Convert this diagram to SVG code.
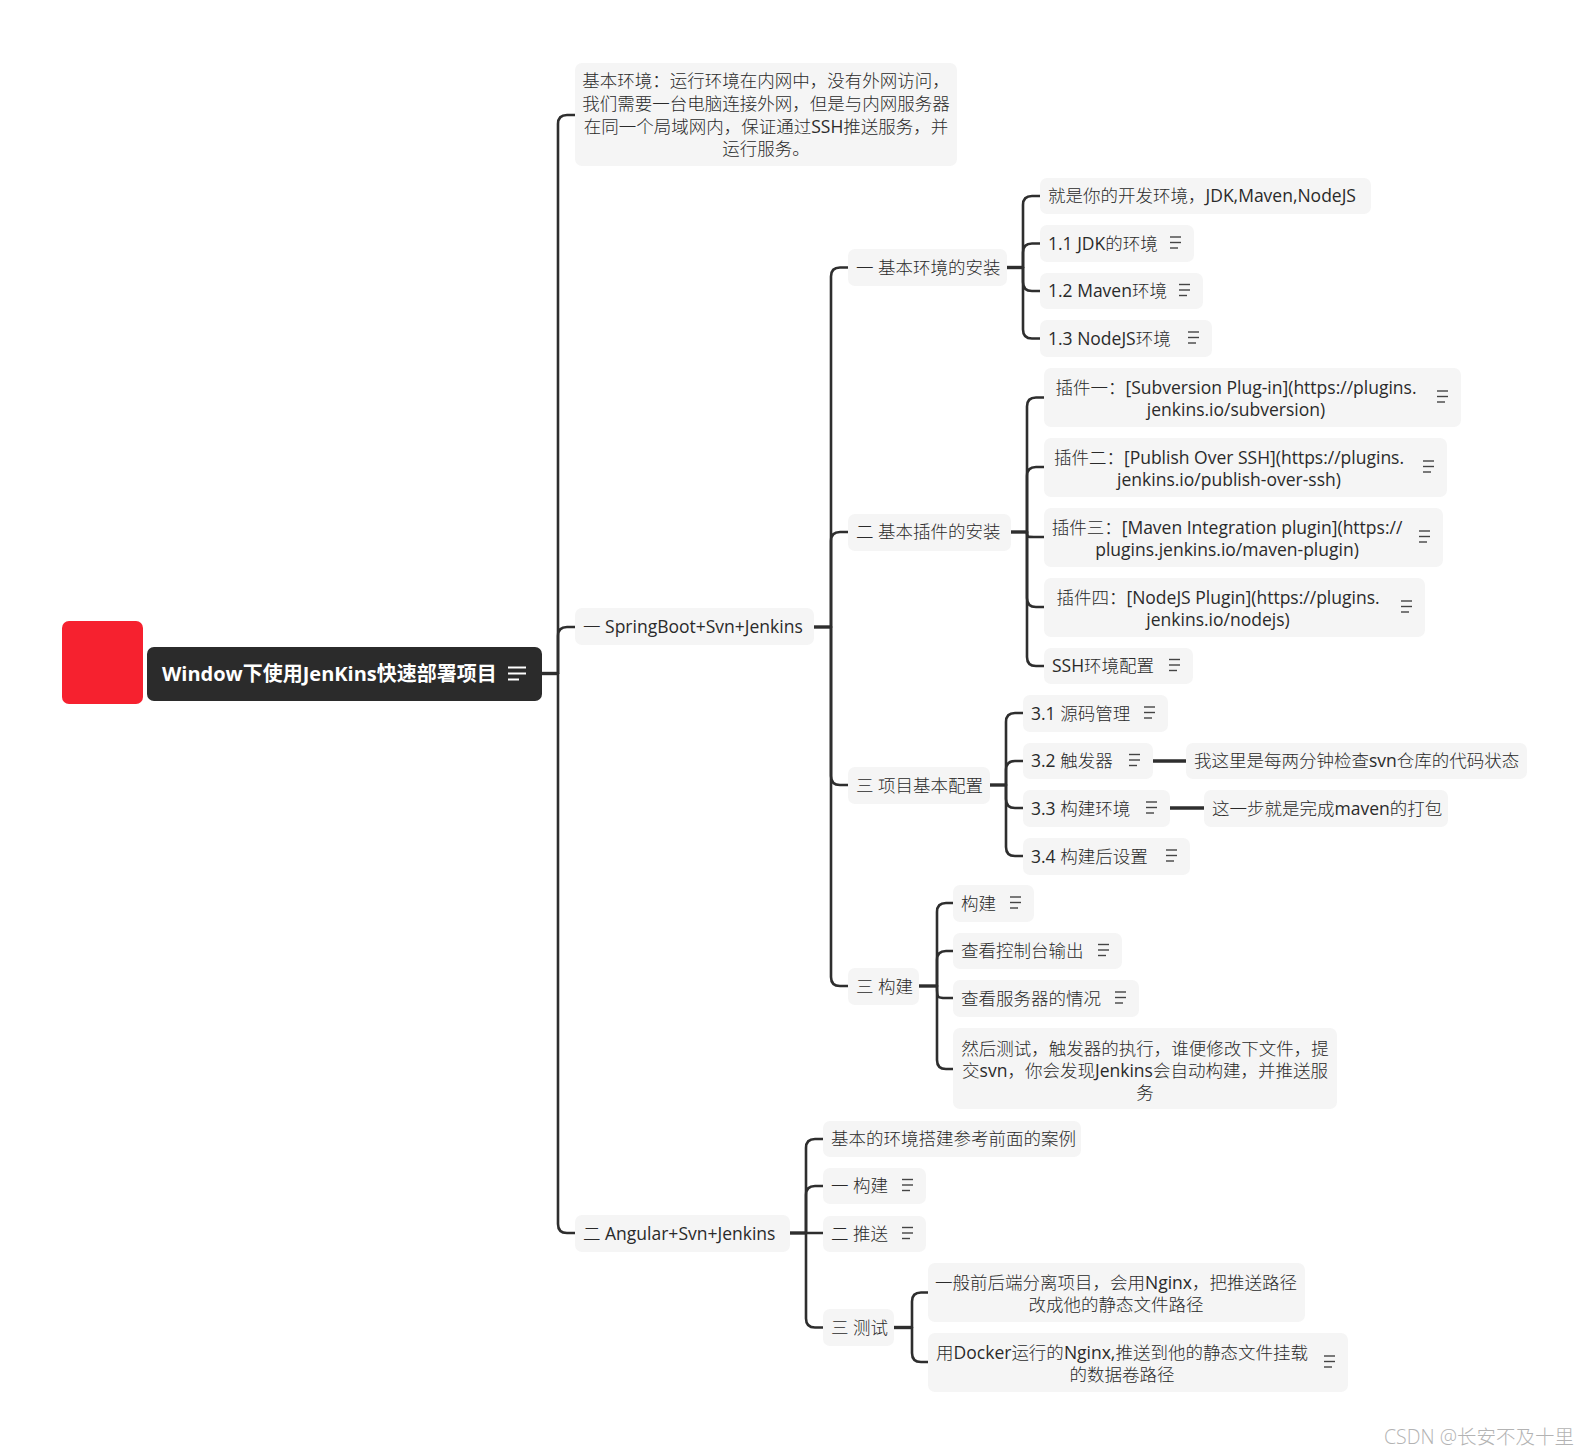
<svg xmlns="http://www.w3.org/2000/svg" xmlns:xlink="http://www.w3.org/1999/xlink" width="1590" height="1455" viewBox="0 0 1590 1455">
<defs>
<style>
.n{fill:#f5f5f5}
.t{font-family:"Open Sans","Noto Sans CJK SC",sans-serif;font-size:17.5px;font-weight:300;fill:#2a2a2a}
.l{font-weight:400}
.m{text-anchor:middle}
.c{fill:none;stroke:#2e2e2e;stroke-width:2.6;stroke-linecap:round}
.s{fill:none;stroke:#2e2e2e;stroke-width:3.4}
.ic line{stroke:#444;stroke-width:1.4}
</style>
<g id="ic" class="ic"><line x1="0" y1="-6.5" x2="11" y2="-6.5"/><line x1="0" y1="-1" x2="11" y2="-1"/><line x1="0" y1="4.5" x2="8" y2="4.5"/></g>
</defs>
<rect width="1590" height="1455" fill="#fff"/>

<g id="connectors">
<path class="s" d="M542 673.5 H558"/>
<path class="c" d="M558 673.5 V124 Q558 115 567 115 H575"/>
<path class="c" d="M558 673.5 V636 Q558 627 567 627 H575"/>
<path class="c" d="M558 673.5 V1224 Q558 1233 567 1233 H575"/>
<path class="s" d="M814 627 H831"/>
<path class="c" d="M831 627 V276.5 Q831 267.5 840 267.5 H848"/>
<path class="c" d="M831 627 V541 Q831 532 840 532 H848"/>
<path class="c" d="M831 627 V776 Q831 785 840 785 H848"/>
<path class="c" d="M831 627 V977 Q831 986 840 986 H848"/>
<path class="s" d="M1007 267.5 H1023"/>
<path class="c" d="M1023 267.5 V205 Q1023 196 1032 196 H1040"/>
<path class="c" d="M1023 267.5 V252.5 Q1023 243.5 1032 243.5 H1040"/>
<path class="c" d="M1023 267.5 V282 Q1023 291 1032 291 H1040"/>
<path class="c" d="M1023 267.5 V329.5 Q1023 338.5 1032 338.5 H1040"/>
<path class="s" d="M1011 532 H1027"/>
<path class="c" d="M1027 532 V406.5 Q1027 397.5 1036 397.5 H1044"/>
<path class="c" d="M1027 532 V476 Q1027 467 1036 467 H1044"/>
<path class="c" d="M1027 532 C1027 537 1027 537 1034 537 H1044"/>
<path class="c" d="M1027 532 V598 Q1027 607 1036 607 H1044"/>
<path class="c" d="M1027 532 V657 Q1027 666 1036 666 H1044"/>
<path class="s" d="M990 785 H1006"/>
<path class="c" d="M1006 785 V722 Q1006 713 1015 713 H1023"/>
<path class="c" d="M1006 785 V770 Q1006 761 1015 761 H1023"/>
<path class="c" d="M1006 785 V799 Q1006 808 1015 808 H1023"/>
<path class="c" d="M1006 785 V847 Q1006 856 1015 856 H1023"/>
<path class="s" d="M1153 761 H1186"/>
<path class="s" d="M1170 808 H1204"/>
<path class="s" d="M919 986 H937"/>
<path class="c" d="M937 986 V912 Q937 903 946 903 H953"/>
<path class="c" d="M937 986 V960 Q937 951 946 951 H953"/>
<path class="c" d="M937 986 C937 998 937 998 946 998 H953"/>
<path class="c" d="M937 986 V1060 Q937 1069 946 1069 H953"/>
<path class="s" d="M790 1233 H806"/>
<path class="c" d="M806 1233 V1148 Q806 1139 815 1139 H823"/>
<path class="c" d="M806 1233 V1195 Q806 1186 815 1186 H823"/>
<path class="c" d="M806 1233 H823"/>
<path class="c" d="M806 1233 V1318.5 Q806 1327.5 815 1327.5 H823"/>
<path class="s" d="M894 1327.5 H912"/>
<path class="c" d="M912 1327.5 V1301.5 Q912 1292.5 921 1292.5 H928"/>
<path class="c" d="M912 1327.5 V1353 Q912 1362 921 1362 H928"/>
</g>

<g id="root-marker"><rect x="62" y="621" width="81" height="83" rx="7" fill="#f6212f"/></g>
<g id="root">
<rect x="147" y="647" width="395" height="54" rx="7" fill="#2b2b2b"/>
<text x="162" y="681" style="font-family:'Open Sans','Noto Sans CJK SC',sans-serif;font-size:20px;font-weight:bold;fill:#fff">Window下使用JenKins快速部署项目</text>
<g stroke="#fff" stroke-width="2"><line x1="508" y1="667.5" x2="526" y2="667.5"/><line x1="508" y1="673.5" x2="526" y2="673.5"/><line x1="508" y1="679.5" x2="519" y2="679.5"/></g>
</g>

<g id="n-env">
<rect class="n" x="575" y="63" width="382" height="103" rx="7"/>
<text class="t m" x="766" y="87">基本环境：运行环境在内网中，没有外网访问，</text>
<text class="t m" x="766" y="110">我们需要一台电脑连接外网，但是与内网服务器</text>
<text class="t m" x="766" y="132.5">在同一个局域网内，保证通过<tspan class="l">SSH</tspan>推送服务，并</text>
<text class="t m" x="766" y="155">运行服务。</text>
</g>

<g id="n-spring">
<rect class="n" x="575" y="608" width="239" height="37" rx="7"/>
<text class="t" x="583" y="633">一 <tspan class="l">SpringBoot+Svn+Jenkins</tspan></text>
</g>
<g id="n-angular">
<rect class="n" x="575" y="1215" width="215" height="37" rx="7"/>
<text class="t" x="583" y="1239.5">二 <tspan class="l">Angular+Svn+Jenkins</tspan></text>
</g>

<g id="n-a">
<rect class="n" x="848" y="249" width="159" height="37" rx="7"/>
<text class="t" x="856" y="273.5">一 基本环境的安装</text>
</g>
<g id="n-a1">
<rect class="n" x="1040" y="178" width="331" height="36" rx="7"/>
<text class="t" x="1048" y="202">就是你的开发环境，<tspan class="l">JDK,Maven,NodeJS</tspan></text>
</g>
<g id="n-a2">
<rect class="n" x="1040" y="225" width="154" height="37" rx="7"/>
<text class="t" x="1048" y="249.5"><tspan class="l">1.1 JDK</tspan>的环境</text>
<use xlink:href="#ic" x="1170" y="243.5"/>
</g>
<g id="n-a3">
<rect class="n" x="1040" y="273" width="163" height="36" rx="7"/>
<text class="t" x="1048" y="297"><tspan class="l">1.2 Maven</tspan>环境</text>
<use xlink:href="#ic" x="1179" y="291"/>
</g>
<g id="n-a4">
<rect class="n" x="1040" y="320" width="172" height="37" rx="7"/>
<text class="t" x="1048" y="344.5"><tspan class="l">1.3 NodeJS</tspan>环境</text>
<use xlink:href="#ic" x="1188" y="338.5"/>
</g>

<g id="n-b">
<rect class="n" x="848" y="514" width="163" height="37" rx="7"/>
<text class="t" x="856" y="538">二 基本插件的安装</text>
</g>
<g id="n-b1">
<rect class="n" x="1044" y="368" width="417" height="59" rx="7"/>
<text class="t m" x="1236" y="394">插件一：<tspan class="l">[Subversion Plug-in](https://plugins.</tspan></text>
<text class="t m l" x="1236" y="416">jenkins.io/subversion)</text>
<use xlink:href="#ic" x="1437" y="397.5"/>
</g>
<g id="n-b2">
<rect class="n" x="1044" y="438" width="403" height="59" rx="7"/>
<text class="t m" x="1229" y="464">插件二：<tspan class="l">[Publish Over SSH](https://plugins.</tspan></text>
<text class="t m l" x="1229" y="486">jenkins.io/publish-over-ssh)</text>
<use xlink:href="#ic" x="1423" y="467.5"/>
</g>
<g id="n-b3">
<rect class="n" x="1044" y="508" width="399" height="59" rx="7"/>
<text class="t m" x="1227" y="534">插件三：<tspan class="l">[Maven Integration plugin](https://</tspan></text>
<text class="t m l" x="1227" y="556">plugins.jenkins.io/maven-plugin)</text>
<use xlink:href="#ic" x="1419" y="537.5"/>
</g>
<g id="n-b4">
<rect class="n" x="1044" y="578" width="381" height="59" rx="7"/>
<text class="t m" x="1218" y="604">插件四：<tspan class="l">[NodeJS Plugin](https://plugins.</tspan></text>
<text class="t m l" x="1218" y="626">jenkins.io/nodejs)</text>
<use xlink:href="#ic" x="1401" y="607.5"/>
</g>
<g id="n-b5">
<rect class="n" x="1044" y="648" width="149" height="36" rx="7"/>
<text class="t" x="1052" y="672"><tspan class="l">SSH</tspan>环境配置</text>
<use xlink:href="#ic" x="1169" y="666"/>
</g>

<g id="n-c">
<rect class="n" x="848" y="767" width="142" height="37" rx="7"/>
<text class="t" x="856" y="791.5">三 项目基本配置</text>
</g>
<g id="n-c1">
<rect class="n" x="1023" y="695" width="145" height="37" rx="7"/>
<text class="t" x="1031" y="719.5"><tspan class="l">3.1</tspan> 源码管理</text>
<use xlink:href="#ic" x="1144" y="713.5"/>
</g>
<g id="n-c2">
<rect class="n" x="1023" y="743" width="130" height="36" rx="7"/>
<text class="t" x="1031" y="767"><tspan class="l">3.2</tspan> 触发器</text>
<use xlink:href="#ic" x="1129" y="761"/>
</g>
<g id="n-c2b">
<rect class="n" x="1186" y="743" width="341" height="36" rx="7"/>
<text class="t" x="1194" y="767">我这里是每两分钟检查<tspan class="l">svn</tspan>仓库的代码状态</text>
</g>
<g id="n-c3">
<rect class="n" x="1023" y="790" width="147" height="37" rx="7"/>
<text class="t" x="1031" y="814.5"><tspan class="l">3.3</tspan> 构建环境</text>
<use xlink:href="#ic" x="1146" y="808.5"/>
</g>
<g id="n-c3b">
<rect class="n" x="1204" y="790" width="244" height="37" rx="7"/>
<text class="t" x="1212" y="814.5">这一步就是完成<tspan class="l">maven</tspan>的打包</text>
</g>
<g id="n-c4">
<rect class="n" x="1023" y="838" width="167" height="37" rx="7"/>
<text class="t" x="1031" y="862.5"><tspan class="l">3.4</tspan> 构建后设置</text>
<use xlink:href="#ic" x="1166" y="856.5"/>
</g>

<g id="n-d">
<rect class="n" x="848" y="968" width="71" height="37" rx="7"/>
<text class="t" x="856" y="992.5">三 构建</text>
</g>
<g id="n-d1">
<rect class="n" x="953" y="885" width="81" height="37" rx="7"/>
<text class="t" x="961" y="909.5">构建</text>
<use xlink:href="#ic" x="1010" y="903.5"/>
</g>
<g id="n-d2">
<rect class="n" x="953" y="933" width="169" height="36" rx="7"/>
<text class="t" x="961" y="957">查看控制台输出</text>
<use xlink:href="#ic" x="1098" y="951"/>
</g>
<g id="n-d3">
<rect class="n" x="953" y="980" width="186" height="37" rx="7"/>
<text class="t" x="961" y="1004.5">查看服务器的情况</text>
<use xlink:href="#ic" x="1115" y="998.5"/>
</g>
<g id="n-d4">
<rect class="n" x="953" y="1028" width="384" height="81" rx="7"/>
<text class="t m" x="1145" y="1054.5">然后测试，触发器的执行，谁便修改下文件，提</text>
<text class="t m" x="1145" y="1076.5">交<tspan class="l">svn</tspan>，你会发现<tspan class="l">Jenkins</tspan>会自动构建，并推送服</text>
<text class="t m" x="1145" y="1098.5">务</text>
</g>

<g id="n-e1">
<rect class="n" x="823" y="1121" width="258" height="36" rx="7"/>
<text class="t" x="831" y="1145">基本的环境搭建参考前面的案例</text>
</g>
<g id="n-e2">
<rect class="n" x="823" y="1168" width="103" height="36" rx="7"/>
<text class="t" x="831" y="1192">一 构建</text>
<use xlink:href="#ic" x="902" y="1186"/>
</g>
<g id="n-e3">
<rect class="n" x="823" y="1216" width="103" height="36" rx="7"/>
<text class="t" x="831" y="1240">二 推送</text>
<use xlink:href="#ic" x="902" y="1234"/>
</g>
<g id="n-e4">
<rect class="n" x="823" y="1309" width="71" height="37" rx="7"/>
<text class="t" x="831" y="1333.5">三 测试</text>
</g>
<g id="n-f1">
<rect class="n" x="928" y="1263" width="377" height="59" rx="7"/>
<text class="t m" x="1116" y="1289">一般前后端分离项目，会用<tspan class="l">Nginx</tspan>，把推送路径</text>
<text class="t m" x="1116" y="1311">改成他的静态文件路径</text>
</g>
<g id="n-f2">
<rect class="n" x="928" y="1333" width="420" height="59" rx="7"/>
<text class="t m" x="1122" y="1359">用<tspan class="l">Docker</tspan>运行的<tspan class="l">Nginx,</tspan>推送到他的静态文件挂载</text>
<text class="t m" x="1122" y="1381">的数据卷路径</text>
<use xlink:href="#ic" x="1324" y="1362.5"/>
</g>

<text x="1384" y="1444" style="font-family:'Open Sans','Noto Sans CJK SC',sans-serif;font-size:19.5px;font-weight:300;fill:#b3b3b3">CSDN @长安不及十里</text>
</svg>
